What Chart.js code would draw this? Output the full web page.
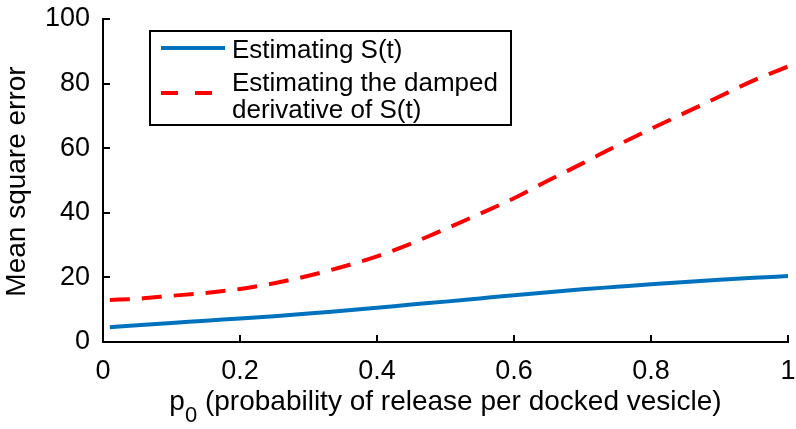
<!DOCTYPE html>
<html>
<head>
<meta charset="utf-8">
<script src="https://cdn.jsdelivr.net/npm/chart.js@4.4.1/dist/chart.umd.min.js"></script>
<style>
html,body{margin:0;padding:0;background:#fff;}
#wrap{width:796px;height:429px;}
</style>
</head>
<body>
<div id="wrap"><canvas id="c" width="796" height="429"></canvas></div>
<script>
const pValues = [0.01,0.05,0.1,0.15,0.2,0.25,0.3,0.35,0.4,0.45,0.5,0.55,0.6,0.65,0.7,0.75,0.8,0.85,0.9,0.95,1.0];
const estimatingS = [4.6,5.2,5.9,6.6,7.3,8.0,8.8,9.7,10.6,11.6,12.5,13.5,14.5,15.4,16.3,17.1,17.9,18.6,19.3,19.9,20.4];
const estimatingDerivative = [13.0,13.4,14.3,15.2,16.4,18.2,20.5,23.3,26.5,30.5,35.0,39.7,44.5,50.0,55.3,60.8,66.0,71.0,76.0,81.0,85.3];
const xTickValues = [0,0.2,0.4,0.6,0.8,1];
const xTickLabels = ['0','0.2','0.4','0.6','0.8','1'];
const yTickValues = [0,20,40,60,80,100];
const yTickLabels = ['0','20','40','60','80','100'];
const seriesNames = ['Estimating S(t)', 'Estimating the damped', 'derivative of S(t)'];
const xTitleMain = 'p';
const xTitleSub = '0';
const xTitleRest = ' (probability of release per docked vesicle)';
const yTitle = 'Mean square error';

const FONT = "'Liberation Sans', Arial, sans-serif";
const BLUE = '#0072BD';
const RED = '#FF0000';

const decor = {
  id: 'decor',
  afterDraw(chart) {
    const ctx = chart.ctx;
    const xs = chart.scales.x, ys = chart.scales.y;
    const ca = chart.chartArea;
    ctx.save();
    ctx.strokeStyle = '#000';
    ctx.lineWidth = 2;
    ctx.beginPath();
    xTickValues.forEach(v => {
      const px = Math.round(xs.getPixelForValue(v));
      ctx.moveTo(px, ca.bottom);
      ctx.lineTo(px, ca.bottom - 7);
    });
    yTickValues.forEach(v => {
      const py = Math.round(ys.getPixelForValue(v));
      ctx.moveTo(ca.left, py);
      ctx.lineTo(ca.left + 7, py);
    });
    ctx.stroke();

    ctx.fillStyle = '#000';
    ctx.textBaseline = 'alphabetic';
    ctx.textAlign = 'left';
    ctx.font = '28px ' + FONT;
    const wP = ctx.measureText(xTitleMain).width;
    const wRest = ctx.measureText(xTitleRest).width;
    ctx.font = '22px ' + FONT;
    const wSub = ctx.measureText(xTitleSub).width;
    const total = wP + wSub + wRest;
    let sx = (ca.left + ca.right) / 2 - total / 2;
    ctx.font = '28px ' + FONT;
    ctx.fillText(xTitleMain, sx, 410);
    ctx.font = '22px ' + FONT;
    ctx.fillText(xTitleSub, sx + wP, 422);
    ctx.font = '28px ' + FONT;
    ctx.fillText(xTitleRest, sx + wP + wSub, 410);

    ctx.save();
    ctx.translate(25, (ca.top + ca.bottom) / 2 + 1);
    ctx.rotate(-Math.PI / 2);
    ctx.textAlign = 'center';
    ctx.font = '28px ' + FONT;
    ctx.fillText(yTitle, 0, 0);
    ctx.restore();

    ctx.fillStyle = '#fff';
    ctx.fillRect(150, 31, 361, 94);
    ctx.strokeStyle = '#000';
    ctx.lineWidth = 2;
    ctx.strokeRect(150, 31, 361, 94);
    ctx.lineWidth = 4;
    ctx.strokeStyle = BLUE;
    ctx.beginPath();
    ctx.moveTo(161, 48); ctx.lineTo(225, 48);
    ctx.stroke();
    ctx.strokeStyle = RED;
    ctx.setLineDash([17, 17]);
    ctx.beginPath();
    ctx.moveTo(161, 93); ctx.lineTo(212, 93);
    ctx.stroke();
    ctx.setLineDash([]);
    ctx.fillStyle = '#000';
    ctx.font = '26px ' + FONT;
    ctx.textAlign = 'left';
    ctx.fillText(seriesNames[0], 232, 58);
    ctx.fillText(seriesNames[1], 232, 91);
    ctx.fillText(seriesNames[2], 232, 118);
    ctx.restore();
  }
};

new Chart(document.getElementById('c'), {
  type: 'line',
  data: {
    datasets: [
      {
        label: seriesNames[0],
        data: pValues.map((p, i) => ({x: p, y: estimatingS[i]})),
        borderColor: BLUE,
        borderWidth: 4,
        pointRadius: 0,
        tension: 0.3,
        cubicInterpolationMode: 'monotone',
        fill: false
      },
      {
        label: seriesNames[1] + ' ' + seriesNames[2],
        data: pValues.map((p, i) => ({x: p, y: estimatingDerivative[i]})),
        borderColor: RED,
        borderWidth: 4,
        borderDash: [20, 12],
        pointRadius: 0,
        tension: 0.3,
        cubicInterpolationMode: 'monotone',
        fill: false
      }
    ]
  },
  options: {
    responsive: false,
    animation: false,
    devicePixelRatio: 1,
    layout: { padding: { left: 0, right: 8, top: 19, bottom: 0 } },
    plugins: { legend: { display: false }, tooltip: { enabled: false } },
    scales: {
      x: {
        type: 'linear',
        min: 0, max: 1,
        afterBuildTicks(scale) { scale.ticks = xTickValues.map(v => ({value: v})); },
        afterFit(scale) { scale.height = 87; scale.paddingLeft = 0; scale.paddingRight = 0; },
        ticks: {
          callback: (v) => { const i = xTickValues.indexOf(v); return i >= 0 ? xTickLabels[i] : ''; },
          font: { family: FONT, size: 27 },
          color: '#000',
          padding: 13,
          maxRotation: 0,
          autoSkip: false
        },
        grid: { display: false, drawTicks: false },
        border: { display: true, color: '#000', width: 2 }
      },
      y: {
        min: 0, max: 100,
        afterBuildTicks(scale) { scale.ticks = yTickValues.map(v => ({value: v})); },
        afterFit(scale) { scale.width = 103; scale.paddingTop = 0; scale.paddingBottom = 0; },
        ticks: {
          callback: (v) => { const i = yTickValues.indexOf(v); return i >= 0 ? yTickLabels[i] : ''; },
          font: { family: FONT, size: 27 },
          color: '#000',
          padding: 13,
          autoSkip: false
        },
        grid: { display: false, drawTicks: false },
        border: { display: true, color: '#000', width: 2 }
      }
    }
  },
  plugins: [decor]
});
</script>
</body>
</html>
